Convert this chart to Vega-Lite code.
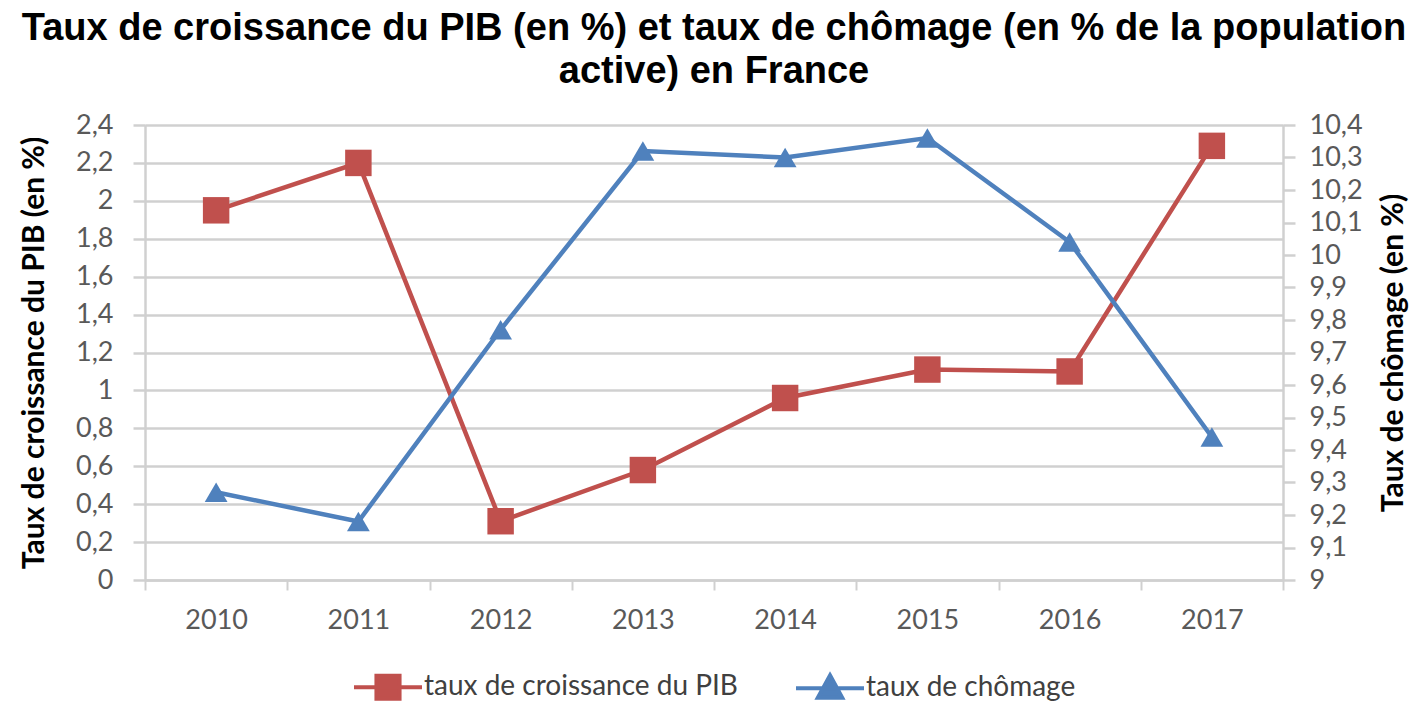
{
  "$schema": "https://vega.github.io/schema/vega-lite/v6.json",
  "width": 1138,
  "height": 455,
  "autosize": {"type": "none"},
  "padding": {"left": 145, "top": 125, "right": 142, "bottom": 121},
  "background": "white",
  "config": {
    "legend": {"layout": {"bottom": {"anchor": "middle"}}}
  },
  "title": {
    "text": ["Taux de croissance du PIB (en %) et taux de chômage (en % de la population", "active) en France"],
    "anchor": "middle",
    "font": "Liberation Sans",
    "fontWeight": "bold",
    "fontSize": 38,
    "lineHeight": 43,
    "color": "#000000",
    "offset": 20
  },
  "data": {
    "values": [
      {"annee": "2010", "pib": 1.95, "chomage": 9.27},
      {"annee": "2011", "pib": 2.2, "chomage": 9.18},
      {"annee": "2012", "pib": 0.31, "chomage": 9.77},
      {"annee": "2013", "pib": 0.58, "chomage": 10.32},
      {"annee": "2014", "pib": 0.96, "chomage": 10.3},
      {"annee": "2015", "pib": 1.11, "chomage": 10.36},
      {"annee": "2016", "pib": 1.1, "chomage": 10.04},
      {"annee": "2017", "pib": 2.29, "chomage": 9.44}
    ]
  },
  "encoding": {
    "x": {
      "field": "annee",
      "type": "ordinal",
      "bandPosition": 0.5,
      "scale": {"type": "band", "paddingInner": 0, "paddingOuter": 0},
      "axis": {
        "title": null,
        "labelAngle": 0,
        "labelFont": "Lato",
        "labelFontSize": 27,
        "labelColor": "#595959",
        "labelPadding": 17,
        "tickBand": "extent",
        "tickSize": 10,
        "tickColor": "#d0d0d0",
        "tickWidth": 2,
        "domainColor": "#d0d0d0",
        "domainWidth": 2.5,
        "grid": false
      }
    }
  },
  "layer": [
    {
      "encoding": {
        "y": {
          "field": "pib",
          "type": "quantitative",
          "scale": {"domain": [0, 2.4], "nice": false, "zero": true},
          "axis": {
            "orient": "left",
            "title": "Taux de croissance du PIB  (en %)",
            "titleFont": "Lato",
            "titleFontWeight": "bold",
            "titleFontSize": 30,
            "titleColor": "#000000",
            "titlePadding": 26,
            "values": [0, 0.2, 0.4, 0.6, 0.8, 1, 1.2, 1.4, 1.6, 1.8, 2, 2.2, 2.4],
            "labelExpr": "replace(format(datum.value, '~g'), '.', ',')",
            "labelFont": "Lato",
            "labelFontSize": 27,
            "labelColor": "#595959",
            "labelPadding": 20,
            "tickSize": 12,
            "tickColor": "#d0d0d0",
            "tickWidth": 2.5,
            "domainColor": "#d0d0d0",
            "domainWidth": 2.5,
            "grid": true,
            "gridColor": "#d0d0d0",
            "gridWidth": 2.5
          }
        },
        "color": {
          "datum": "taux de croissance du PIB",
          "type": "nominal",
          "scale": {"domain": ["taux de croissance du PIB", "taux de chômage"], "range": ["#c0504d", "#4f81bd"]},
          "legend": {
            "orient": "bottom",
            "direction": "horizontal",
            "title": null,
            "offset": 18,
            "labelFont": "Lato",
            "labelFontSize": 28,
            "labelColor": "#404040",
            "labelLimit": 0,
            "symbolSize": 4624,
            "symbolStrokeWidth": 4,
            "columnPadding": 50,
            "labelOffset": 0,
            "encode": {
              "symbols": {
                "update": {
                  "shape": {"signal": "datum.value === 'taux de croissance du PIB' ? 'M-1,0H1M-0.34,-0.34H0.34V0.34H-0.34Z' : 'M-1,0H1M0,-0.38L0.36,0.28H-0.36Z'"},
                  "fill": {"signal": "datum.value === 'taux de croissance du PIB' ? '#c0504d' : '#4f81bd'"},
                  "stroke": {"signal": "datum.value === 'taux de croissance du PIB' ? '#c0504d' : '#4f81bd'"},
                  "size": {"value": 4624},
                  "fillOpacity": {"value": 1},
                  "opacity": {"value": 1}
                }
              }
            }
          }
        }
      },
      "layer": [
        {"mark": {"type": "line", "strokeWidth": 4.5}},
        {"mark": {"type": "point", "shape": "square", "filled": true, "size": 700, "opacity": 1}}
      ]
    },
    {
      "encoding": {
        "y": {
          "field": "chomage",
          "type": "quantitative",
          "scale": {"domain": [9, 10.4], "nice": false, "zero": false},
          "axis": {
            "orient": "right",
            "title": "Taux de chômage (en %)",
            "titleFont": "Lato",
            "titleFontWeight": "bold",
            "titleFontSize": 30,
            "titleColor": "#000000",
            "titleAngle": 270,
            "titlePadding": 46,
            "values": [9, 9.1, 9.2, 9.3, 9.4, 9.5, 9.6, 9.7, 9.8, 9.9, 10, 10.1, 10.2, 10.3, 10.4],
            "labelExpr": "replace(format(datum.value, '~g'), '.', ',')",
            "labelFont": "Lato",
            "labelFontSize": 27,
            "labelColor": "#595959",
            "labelPadding": 14,
            "tickSize": 12,
            "tickColor": "#d0d0d0",
            "tickWidth": 2.5,
            "domainColor": "#d0d0d0",
            "domainWidth": 2.5,
            "grid": false
          }
        },
        "color": {"datum": "taux de chômage", "type": "nominal"}
      },
      "layer": [
        {"mark": {"type": "line", "strokeWidth": 4.5}},
        {"mark": {"type": "point", "shape": "triangle-up", "filled": true, "size": 520, "opacity": 1}}
      ]
    }
  ],
  "resolve": {"scale": {"y": "independent"}}
}
